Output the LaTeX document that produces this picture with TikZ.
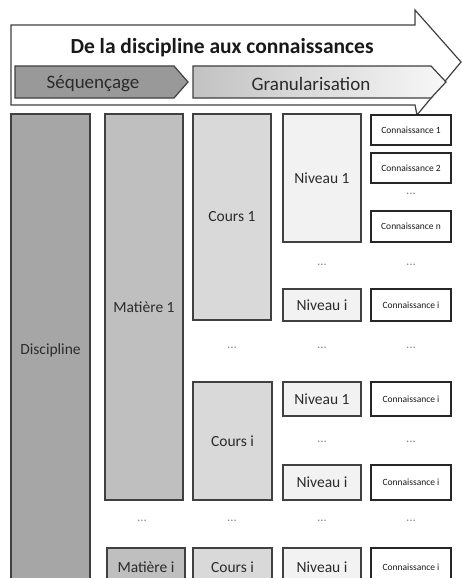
\documentclass[tikz,border=0pt]{standalone}
\usepackage{fontspec}
\setmainfont{Carlito}
\definecolor{edge}{HTML}{404040}
\definecolor{ink}{HTML}{2b2b2b}

\begin{document}
\begin{tikzpicture}[x=1pt,y=-1pt,box/.style={draw=edge,line width=1.3pt,inner sep=0pt,text=ink,font=\fontsize{15.5}{17}\selectfont},know/.style={draw=black!85,line width=1.3pt,fill=white,minimum width=80pt,minimum height=30pt,inner sep=0pt,text=black!90,font=\fontsize{9.5}{10}\selectfont},more/.style={text=black!45,font=\fontsize{13}{13}\selectfont},banner/.style={draw=edge,line width=1.2pt},stage/.style={text=ink,font=\fontsize{19}{22}\selectfont}]
\useasboundingbox (0,0) rectangle (462,578);
% the big arrow and its two stages
\draw[banner,fill=white] (11,25) -- (415,25) -- (415,10) -- (461,62) -- (417,115) -- (415,105) -- (11,105) -- cycle;
\node[font=\fontsize{21.5}{24}\selectfont\bfseries,text=black!90] (title) at (222,48) {De la discipline aux connaissances};
\draw[banner,fill=black!40] (15,66) -- (174,66) -- (188,82) -- (174,98) -- (15,98) -- cycle;
\draw[banner,left color=black!24,right color=black!3] (193,66) -- (431,66) -- (446,82) -- (431,98) -- (193,98) -- cycle;
\node[stage] (sequencage) at (93,84) {Séquençage};
\node[stage] (granularisation) at (311,84) {Granularisation};
% columns
\node[box,fill=black!35,minimum width=79pt,minimum height=472pt] (discipline) at (50.5,350) {Discipline};
\node[box,fill=black!25,minimum width=78pt,minimum height=386pt] (matiere1) at (144,307) {Matière 1};
\node[box,fill=black!25,minimum width=78pt,minimum height=38pt] (matierei) at (146,567) {Matière i};
\node[box,fill=black!15,minimum width=78pt,minimum height=206pt] (cours1) at (232,217) {Cours 1};
\node[box,fill=black!15,minimum width=79pt,minimum height=118pt] (coursi) at (232.5,441) {Cours i};
\node[box,fill=black!15,minimum width=79pt,minimum height=38pt] (coursib) at (232.5,567) {Cours i};
\node[box,fill=black!5,minimum width=78pt,minimum height=128pt] (niveau1) at (322,178) {Niveau 1};
\node[box,fill=black!5,minimum width=78pt,minimum height=32pt] (niveaui) at (322,305) {Niveau i};
\node[box,fill=black!5,minimum width=78pt,minimum height=34pt] (niveau1b) at (322,399) {Niveau 1};
\node[box,fill=black!5,minimum width=78pt,minimum height=35pt] (niveauib) at (322,482.5) {Niveau i};
\node[box,fill=black!5,minimum width=78pt,minimum height=38pt] (niveauic) at (322,567) {Niveau i};
% knowledge items
\node[know] (conn1) at (411,130) {Connaissance 1};
\node[know] (conn2) at (411,168) {Connaissance 2};
\node[know,minimum height=31pt] (connn) at (411,226.5) {Connaissance n};
\node[know,minimum height=32pt] (conni) at (411,305) {Connaissance i};
\node[know,minimum height=34pt] (connib) at (411,399) {Connaissance i};
\node[know,minimum height=35pt] (connic) at (411,482.5) {Connaissance i};
\node[know,minimum height=38pt] (connid) at (411,567) {Connaissance i};
% ellipses
\node[more] (d1) at (411,194) {...};
\node[more] (d2) at (322,265) {...};
\node[more] (d3) at (411,265) {...};
\node[more] (d4) at (232,348) {...};
\node[more] (d5) at (322,348) {...};
\node[more] (d6) at (411,348) {...};
\node[more] (d7) at (322,442) {...};
\node[more] (d8) at (411,442) {...};
\node[more] (d9) at (142,521) {...};
\node[more] (d10) at (232,521) {...};
\node[more] (d11) at (322,521) {...};
\node[more] (d12) at (411,521) {...};
\end{tikzpicture}
\end{document}
